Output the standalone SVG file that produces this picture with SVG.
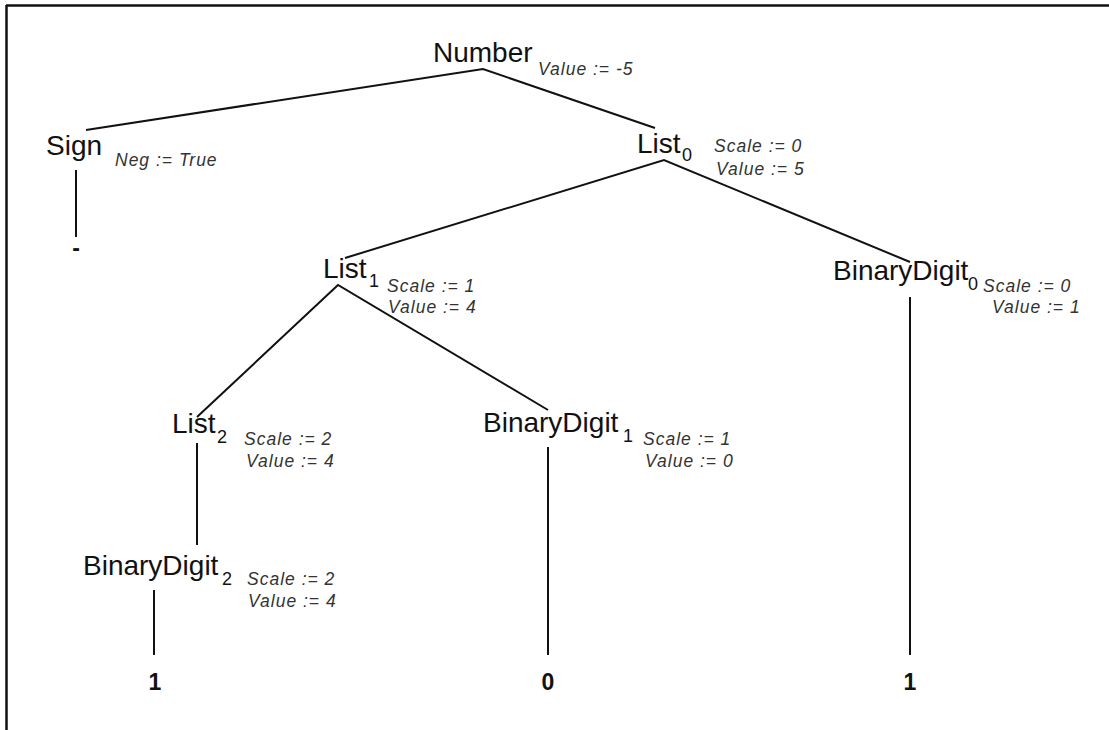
<svg xmlns="http://www.w3.org/2000/svg" width="1109" height="730" viewBox="0 0 1109 730">
<style>
.n{font-family:"Liberation Sans",Arial,sans-serif;font-size:28px;fill:#111}
.s{font-family:"Liberation Sans",Arial,sans-serif;font-size:18px;fill:#111}
.a{font-family:"Liberation Sans",Arial,sans-serif;font-size:17.5px;font-style:italic;letter-spacing:1px;fill:#333}
.l{font-family:"Liberation Sans",Arial,sans-serif;font-size:23px;font-weight:bold;fill:#111;text-anchor:middle}
.e{stroke:#111;stroke-width:2;fill:none}
</style>
<rect width="1109" height="730" fill="#fff"/>
<path d="M6,5.5H1109M6.5,5V730" stroke="#111" stroke-width="2.5" fill="none"/>
<g id="connectors" class="e">
<path d="M86,130L483,69L655,128"/>
<path d="M345,258L664,160L910,262"/>
<path d="M197,417L338,285L548,410"/>
<path d="M76,170V237"/>
<path d="M197,443V545"/>
<path d="M154,590V655"/>
<path d="M548,447V655"/>
<path d="M910,297V655"/>
</g>
<g id="number"><text class="n" x="433" y="62">Number</text><text class="a" x="538" y="75">Value := -5</text></g>
<g id="sign"><text class="n" x="46" y="155">Sign</text><text class="a" x="115" y="166">Neg := True</text></g>
<g id="list0"><text class="n" x="637" y="153">List</text><text class="s" x="682" y="161">0</text><text class="a" x="714" y="152">Scale := 0</text><text class="a" x="716" y="175">Value := 5</text></g>
<g id="list1"><text class="n" x="323" y="278">List</text><text class="s" x="369" y="287">1</text><text class="a" x="387" y="292">Scale := 1</text><text class="a" x="388" y="313">Value := 4</text></g>
<g id="binarydigit0"><text class="n" x="833" y="280">BinaryDigit</text><text class="s" x="968" y="290">0</text><text class="a" x="983" y="292">Scale := 0</text><text class="a" x="992" y="313">Value := 1</text></g>
<g id="list2"><text class="n" x="172" y="433">List</text><text class="s" x="217" y="443">2</text><text class="a" x="244" y="445">Scale := 2</text><text class="a" x="246" y="467">Value := 4</text></g>
<g id="binarydigit1"><text class="n" x="483" y="432">BinaryDigit</text><text class="s" x="623" y="442">1</text><text class="a" x="643" y="445">Scale := 1</text><text class="a" x="645" y="467">Value := 0</text></g>
<g id="binarydigit2"><text class="n" x="83" y="575">BinaryDigit</text><text class="s" x="222" y="585">2</text><text class="a" x="247" y="585">Scale := 2</text><text class="a" x="248" y="607">Value := 4</text></g>
<g id="leaf-minus"><text class="l" x="76" y="256">-</text></g>
<g id="leaf-1a"><text class="l" x="155" y="690">1</text></g>
<g id="leaf-0"><text class="l" x="548" y="690">0</text></g>
<g id="leaf-1b"><text class="l" x="910" y="690">1</text></g>
</svg>
